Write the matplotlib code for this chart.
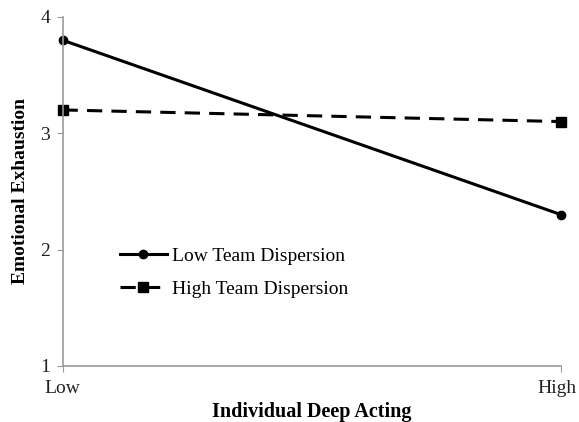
import matplotlib
matplotlib.use('Agg')
import matplotlib.pyplot as plt
import matplotlib.transforms as mtransforms

# data
levels = ['Low', 'High']
low_disp = [3.8, 2.3]
high_disp = [3.2, 3.1]
yticks = [1, 2, 3, 4]

plt.rcParams['font.family'] = 'Liberation Serif'

fig = plt.figure(figsize=(5.79, 4.22), dpi=100)
ax = fig.add_axes([0.108, 0.133, 0.861, 0.827])

x = list(range(len(levels)))
ax.plot(x, low_disp, color='black', lw=2.2, marker='o', ms=6,
        label='Low Team Dispersion', clip_on=False)
ax.plot(x, high_disp, color='black', lw=2.2, marker='s', ms=6.5,
        ls=(0, (5, 3)), label='High Team Dispersion', clip_on=False)

ax.set_xlim(0, 1)
ax.set_ylim(1, 4)
ax.set_xticks(x)
ax.set_xticklabels(levels)
ax.set_yticks(yticks)

for s in ['top', 'right']:
    ax.spines[s].set_visible(False)
for s in ['left', 'bottom']:
    ax.spines[s].set_color('#999999')
    ax.spines[s].set_linewidth(1.2)
ax.tick_params(axis='both', colors='#999999', labelcolor='#222222',
               labelsize=14, length=4)
ax.tick_params(axis='x', pad=6.5)
ax.tick_params(axis='y', pad=5)

# keep "High" inside the canvas
lab = ax.get_xticklabels()[-1]
lab.set_transform(lab.get_transform() + mtransforms.ScaledTranslation(-3 / 72, 0, fig.dpi_scale_trans))

ax.set_xlabel('Individual Deep Acting', fontsize=14.5, fontweight='bold', labelpad=3)
ax.set_ylabel('Emotional Exhaustion', fontsize=14, fontweight='bold', labelpad=8)

ax.legend(loc='upper left', bbox_to_anchor=(0.08, 0.39), frameon=False,
          fontsize=14, handlelength=2.4, handletextpad=0.3, labelspacing=0.8)

fig.savefig('out.png', dpi=100)
